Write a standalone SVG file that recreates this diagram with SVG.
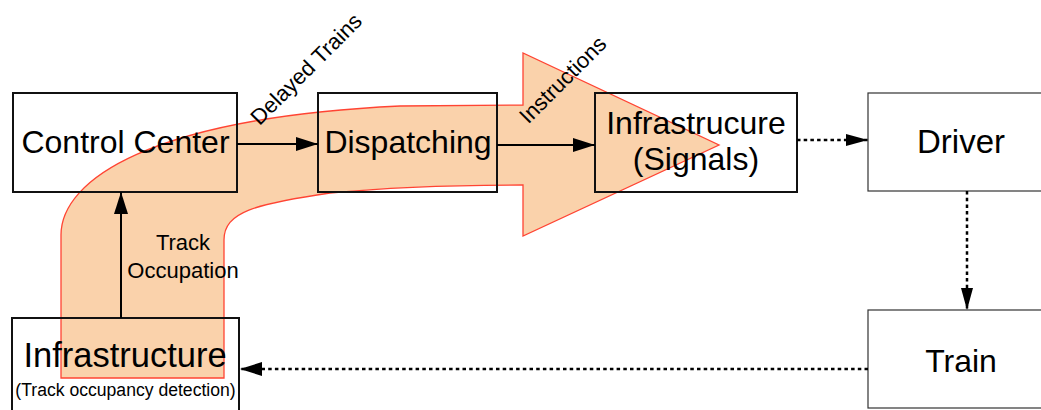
<svg xmlns="http://www.w3.org/2000/svg" width="1041" height="410" viewBox="0 0 1041 410">
  <style>
    text { font-family: "Liberation Sans", Arial, sans-serif; fill: #000; text-anchor: middle; }
    .box { fill: none; stroke: #111; stroke-width: 2; }
    .thin { fill: none; stroke: #333; stroke-width: 1.2; }
    .solid { stroke: #000; stroke-width: 2; fill: none; }
    .dot { stroke: #000; stroke-width: 2.5; fill: none; stroke-dasharray: 3.5 3.2; }
    .lbl { font-size: 22px; }
  </style>
  <defs>
    <marker id="ah" markerUnits="userSpaceOnUse" markerWidth="24" markerHeight="16" refX="22" refY="7" orient="auto">
      <path d="M0,0 L22,7 L0,14 Z" fill="#000"/>
    </marker>
    <marker id="ahs" markerUnits="userSpaceOnUse" markerWidth="24" markerHeight="14" refX="22" refY="6" orient="auto">
      <path d="M0,0 L22,6 L0,12 Z" fill="#000"/>
    </marker>
  </defs>
  <rect width="1041" height="410" fill="#fff"/>

  <g id="flow-arrow">
    <path d="M61,378 L61,235 C61,180 150,118 400,106 L523,105 L523,53 L719,145 L523,236 L523,185 C470,185 400,186 330,193 C255,204 224,212 224,240 L224,378 Z" fill="#fad2ab" stroke="#ff4433" stroke-width="1.3" stroke-linejoin="miter"/>
  </g>

  <g id="control-center">
    <rect class="box" x="13" y="93" width="224" height="99"/>
    <text x="125.5" y="153" font-size="32">Control Center</text>
  </g>
  <g id="dispatching">
    <rect class="box" x="318" y="93" width="179" height="99"/>
    <text x="408" y="153" font-size="32">Dispatching</text>
  </g>
  <g id="infrastrucure-signals">
    <rect class="box" x="595" y="93" width="202" height="99"/>
    <text x="696" y="134" font-size="32">Infrastrucure</text>
    <text x="696" y="170" font-size="32">(Signals)</text>
  </g>
  <g id="driver">
    <rect class="thin" x="868" y="93" width="200" height="98"/>
    <text x="961" y="153" font-size="33">Driver</text>
  </g>
  <g id="train">
    <rect class="thin" x="868" y="310" width="200" height="98"/>
    <text x="961" y="372" font-size="32">Train</text>
  </g>
  <g id="infrastructure">
    <rect class="box" x="12" y="318" width="227" height="100"/>
    <text x="125" y="367" font-size="34.5">Infrastructure</text>
    <text x="125.5" y="396" font-size="17.6">(Track occupancy detection)</text>
  </g>

  <g id="connectors">
    <line class="solid" x1="237" y1="144" x2="318" y2="144" marker-end="url(#ah)"/>
    <line class="solid" x1="497" y1="145" x2="595" y2="145" marker-end="url(#ah)"/>
    <line class="solid" x1="121" y1="318" x2="121" y2="192" marker-end="url(#ah)"/>
    <line class="dot" x1="797" y1="140" x2="868" y2="140" marker-end="url(#ahs)"/>
    <line class="dot" x1="967" y1="191" x2="967" y2="310" marker-end="url(#ahs)"/>
    <line class="dot" x1="868" y1="369" x2="240" y2="369" marker-end="url(#ah)"/>
    <text class="lbl" transform="translate(307.5,70.5) rotate(-45)" y="5.6">Delayed Trains</text>
    <text class="lbl" transform="translate(562.5,79.5) rotate(-45)" y="7.9">Instructions</text>
    <text class="lbl" x="183" y="250">Track</text>
    <text class="lbl" x="183" y="278">Occupation</text>
  </g>
</svg>
